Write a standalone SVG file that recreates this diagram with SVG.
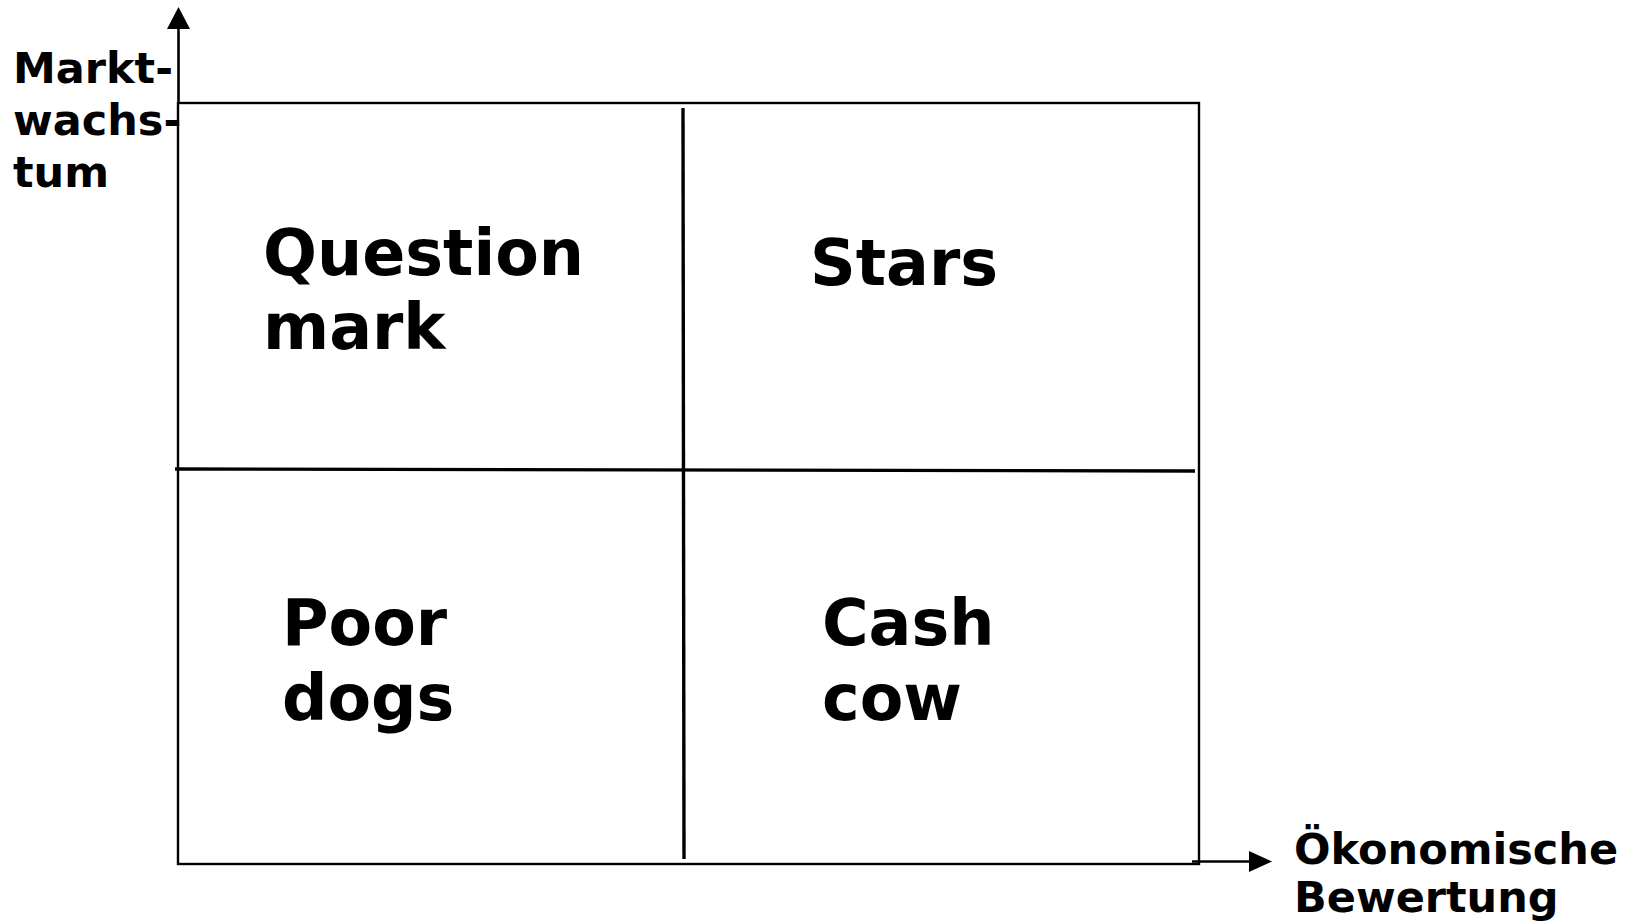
<svg xmlns="http://www.w3.org/2000/svg" width="1633" height="921" viewBox="0 0 1633 921">
<style>
.lbl{font-family:"DejaVu Sans",Verdana,sans-serif;font-weight:bold;fill:#000}
.ax{font-size:43px}
.q{font-size:63.5px}
.ln{stroke:#000;fill:none}
</style>
<rect width="1633" height="921" fill="#fff"/>
<g id="matrix">
<rect x="178" y="103" width="1021" height="761" class="ln" stroke-width="2.4"/>
<line x1="175" y1="469" x2="1195" y2="471" class="ln" stroke-width="3.4"/>
<line x1="683" y1="108" x2="684" y2="859" class="ln" stroke-width="3.4"/>
</g>
<g id="connectors">
<line x1="178.5" y1="103" x2="178.5" y2="28" class="ln" stroke-width="2.6"/>
<path d="M167,29 L178.5,7 L190,29 z" fill="#000"/>
<line x1="1192" y1="861.5" x2="1250" y2="861.5" class="ln" stroke-width="2.6"/>
<path d="M1249,851 L1272,861.5 L1249,872 z" fill="#000"/>
</g>
<g id="y-label">
<text class="lbl ax" x="13" y="83">Markt-</text>
<text class="lbl ax" x="13" y="135">wachs-</text>
<text class="lbl ax" x="13" y="187">tum</text>
</g>
<g id="x-label">
<text class="lbl ax" x="1294" y="864">Ökonomische</text>
<text class="lbl ax" x="1294" y="912">Bewertung</text>
</g>
<g id="question-mark">
<text class="lbl q" x="263" y="275">Question</text>
<text class="lbl q" x="263" y="349">mark</text>
</g>
<g id="stars">
<text class="lbl q" x="810" y="285">Stars</text>
</g>
<g id="poor-dogs">
<text class="lbl q" x="282" y="645">Poor</text>
<text class="lbl q" x="282" y="720">dogs</text>
</g>
<g id="cash-cow">
<text class="lbl q" x="822" y="645">Cash</text>
<text class="lbl q" x="822" y="720">cow</text>
</g>
</svg>
